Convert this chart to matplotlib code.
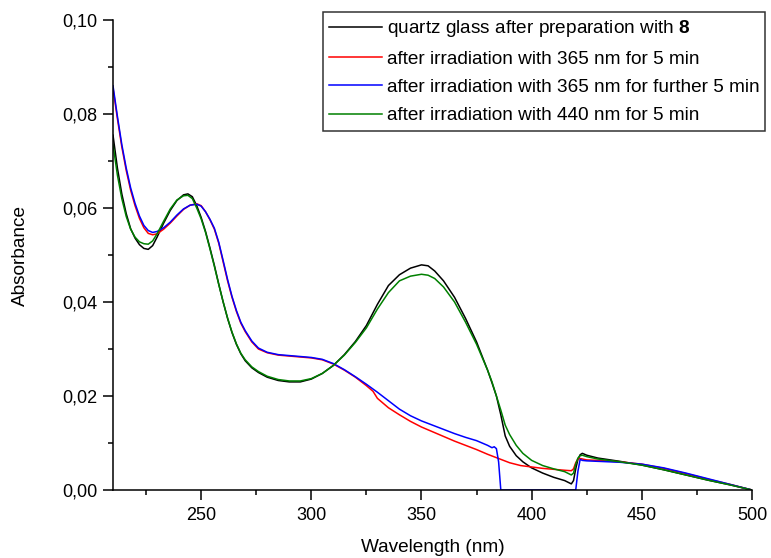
import numpy as np
import matplotlib.pyplot as plt
from matplotlib.ticker import MultipleLocator, FuncFormatter

plt.rcParams['font.family'] = ['Liberation Sans', 'DejaVu Sans']
plt.rcParams['mathtext.fontset'] = 'custom'
plt.rcParams['mathtext.bf'] = 'Liberation Sans:bold'

# quartz glass after preparation with 8
wl_quartz = [210, 212, 214, 216, 218, 220, 222, 224, 226, 228, 230, 233, 236, 239, 242, 244,
             246, 248, 250, 252, 254, 256, 258, 260, 262, 264, 266, 268, 270, 273, 276, 280,
             285, 290, 295, 300, 305, 310, 315, 320, 325, 330, 335, 340, 345, 350, 353, 356,
             360, 365, 370, 375, 380, 382, 384, 386, 388, 390, 393, 396, 400, 405, 410, 415,
             418, 419, 420, 421, 422, 423, 425, 430, 440, 450, 460, 470, 480, 490, 500]
abs_quartz = [0.0755, 0.0685, 0.0630, 0.0588, 0.0556, 0.0536, 0.0522, 0.0514, 0.0512, 0.0520,
              0.0538, 0.0568, 0.0595, 0.0616, 0.0628, 0.0630, 0.0624, 0.0605, 0.0580, 0.0550,
              0.0515, 0.0478, 0.0438, 0.0400, 0.0365, 0.0335, 0.0310, 0.0290, 0.0275, 0.0260,
              0.0250, 0.0240, 0.0233, 0.0230, 0.0230, 0.0236, 0.0248, 0.0265, 0.0288, 0.0316,
              0.0350, 0.0395, 0.0435, 0.0458, 0.0472, 0.0479, 0.0477, 0.0466, 0.0445, 0.0410,
              0.0365, 0.0315, 0.0255, 0.0228, 0.0200, 0.0160, 0.0115, 0.0093, 0.0073, 0.0060,
              0.0047, 0.0036, 0.0027, 0.0020, 0.0013, 0.0020, 0.0045, 0.0065, 0.0075, 0.0078,
              0.0074, 0.0068, 0.0061, 0.0053, 0.0043, 0.0032, 0.0021, 0.0011, 0.0000]

# after irradiation with 365 nm for 5 min
wl_365 = [210, 212, 214, 216, 218, 220, 222, 224, 226, 228, 230, 233, 236, 239, 242, 245,
          248, 250, 252, 254, 256, 258, 260, 262, 264, 266, 268, 270, 273, 276, 280, 285,
          290, 295, 300, 305, 310, 315, 320, 325, 328, 330, 335, 340, 345, 350, 355, 360,
          365, 370, 375, 380, 385, 390, 395, 400, 405, 410, 415, 418, 419, 420, 421, 422,
          425, 430, 440, 450, 460, 470, 480, 490, 500]
abs_365 = [0.0855, 0.0790, 0.0730, 0.0680, 0.0638, 0.0605, 0.0578, 0.0558, 0.0546, 0.0543,
           0.0545, 0.0555, 0.0568, 0.0583, 0.0597, 0.0606, 0.0609, 0.0605, 0.0592, 0.0575,
           0.0555, 0.0525, 0.0485, 0.0445, 0.0410, 0.0380, 0.0355, 0.0337, 0.0315, 0.0300,
           0.0292, 0.0287, 0.0285, 0.0283, 0.0281, 0.0277, 0.0268, 0.0255, 0.0240, 0.0222,
           0.0210, 0.0195, 0.0175, 0.0160, 0.0146, 0.0134, 0.0124, 0.0114, 0.0104, 0.0095,
           0.0086, 0.0076, 0.0067, 0.0058, 0.0052, 0.0049, 0.0046, 0.0044, 0.0042, 0.0041,
           0.0045, 0.0058, 0.0066, 0.0067, 0.0064, 0.0063, 0.0060, 0.0055, 0.0046, 0.0035,
           0.0023, 0.0012, 0.0000]

# after irradiation with 365 nm for further 5 min
wl_365b = [210, 212, 214, 216, 218, 220, 222, 224, 226, 228, 230, 233, 236, 239, 242, 245,
           248, 250, 252, 254, 256, 258, 260, 262, 264, 266, 268, 270, 273, 276, 280, 285,
           290, 295, 300, 305, 310, 315, 320, 325, 330, 335, 340, 345, 350, 355, 360, 365,
           370, 375, 380, 382, 383, 384, 385, 386, 420, 421, 422, 423, 425, 430, 440, 450,
           460, 470, 480, 490, 500]
abs_365b = [0.0860, 0.0795, 0.0735, 0.0685, 0.0643, 0.0610, 0.0583, 0.0563, 0.0552, 0.0548,
            0.0550, 0.0558, 0.0570, 0.0585, 0.0598, 0.0606, 0.0608, 0.0604, 0.0592, 0.0576,
            0.0557, 0.0527, 0.0488, 0.0448, 0.0412, 0.0382, 0.0357, 0.0339, 0.0317, 0.0302,
            0.0293, 0.0288, 0.0286, 0.0284, 0.0282, 0.0278, 0.0269, 0.0256, 0.0241, 0.0225,
            0.0208, 0.0190, 0.0172, 0.0158, 0.0147, 0.0138, 0.0129, 0.0120, 0.0112, 0.0105,
            0.0095, 0.0090, 0.0092, 0.0088, 0.0060, 0.0000, 0.0000, 0.0040, 0.0065, 0.0063,
            0.0062, 0.0061, 0.0059, 0.0055, 0.0047, 0.0036, 0.0024, 0.0012, 0.0000]

# after irradiation with 440 nm for 5 min
wl_440 = wl_quartz
abs_440 = [0.0735, 0.0670, 0.0620, 0.0582, 0.0555, 0.0538, 0.0528, 0.0524, 0.0523, 0.0530,
           0.0545, 0.0572, 0.0598, 0.0617, 0.0626, 0.0627, 0.0620, 0.0600, 0.0577, 0.0548,
           0.0513, 0.0476, 0.0437, 0.0400, 0.0366, 0.0336, 0.0311, 0.0291, 0.0277, 0.0262,
           0.0252, 0.0242, 0.0235, 0.0232, 0.0232, 0.0237, 0.0248, 0.0265, 0.0287, 0.0314,
           0.0345, 0.0385, 0.0420, 0.0445, 0.0455, 0.0459, 0.0457, 0.0450, 0.0432, 0.0400,
           0.0357, 0.0310, 0.0255, 0.0230, 0.0200, 0.0170, 0.0138, 0.0118, 0.0095, 0.0078,
           0.0063, 0.0052, 0.0045, 0.0039, 0.0032, 0.0036, 0.0055, 0.0068, 0.0073, 0.0074,
           0.0071, 0.0066, 0.0060, 0.0053, 0.0043, 0.0032, 0.0021, 0.0011, 0.0000]

labels = ['quartz glass after preparation with $\\bf{8}$',
          'after irradiation with 365 nm for 5 min',
          'after irradiation with 365 nm for further 5 min',
          'after irradiation with 440 nm for 5 min']

fig = plt.figure(figsize=(7.71, 5.58), dpi=100)
ax = fig.add_axes([113 / 771, 1 - 490 / 558, (752 - 113) / 771, (490 - 20) / 558])

lw = 1.1
ax.plot(wl_quartz, abs_quartz, color='black', lw=lw, label=labels[0])
ax.plot(wl_365, abs_365, color='#ff0000', lw=lw, label=labels[1])
ax.plot(wl_365b, abs_365b, color='#0000ff', lw=lw, label=labels[2])
ax.plot(wl_440, abs_440, color='#008000', lw=lw, label=labels[3])

ax.set_xlim(210, 500)
ax.set_ylim(0, 0.10)
ax.xaxis.set_major_locator(MultipleLocator(50))
ax.xaxis.set_minor_locator(MultipleLocator(25))
ax.yaxis.set_major_locator(MultipleLocator(0.02))
ax.yaxis.set_minor_locator(MultipleLocator(0.01))
ax.yaxis.set_major_formatter(FuncFormatter(lambda v, p: f'{v:.2f}'.replace('.', ',')))

for s in ['top', 'right']:
    ax.spines[s].set_visible(False)
for s in ['left', 'bottom']:
    ax.spines[s].set_linewidth(1.1)

ax.tick_params(axis='both', which='major', direction='out', length=7, width=1.1, labelsize=13)
ax.tick_params(axis='both', which='minor', direction='out', length=3.5, width=1.1)
ax.tick_params(axis='y', which='major', pad=4)
ax.tick_params(axis='x', which='major', pad=5)

ax.set_xlabel('Wavelength (nm)', fontsize=13.7, labelpad=11)
ax.set_ylabel('Absorbance', fontsize=13.7, labelpad=24)

leg = ax.legend(loc='upper left', bbox_to_anchor=(323 / 771, 1 - 12 / 558),
                bbox_transform=fig.transFigure, fontsize=13.7, frameon=True,
                fancybox=False, borderaxespad=0, handlelength=2.75, handletextpad=0.26,
                labelspacing=0.58, borderpad=0.33)
leg.get_frame().set_edgecolor('black')
leg.get_frame().set_linewidth(1.1)

fig.savefig('out.png', dpi=100)
